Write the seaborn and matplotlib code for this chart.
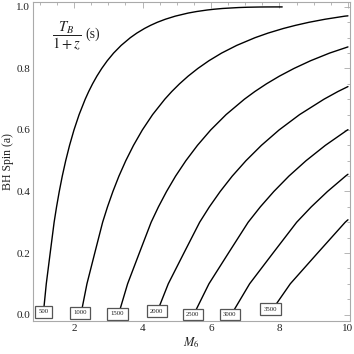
import matplotlib
matplotlib.use("Agg")
import matplotlib.pyplot as plt
import numpy as np
import pandas as pd
import seaborn as sns
from matplotlib.ticker import MultipleLocator, FormatStrFormatter

# Contour levels of T_B/(1+z) in seconds
levels = [500, 1000, 1500, 2000, 2500, 3000, 3500]

# Points (M6, spin)
spin_500 = [0, 0.1, 0.2, 0.3, 0.35, 0.4, 0.45, 0.5, 0.55, 0.6, 0.65, 0.7, 0.725, 0.75, 0.775,
            0.8, 0.825, 0.85, 0.875, 0.9, 0.915, 0.93, 0.94, 0.95, 0.96, 0.97, 0.98, 0.985,
            0.99, 0.9925, 0.995, 0.998, 0.999, 0.9997, 0.9999, 0.99999, 1.0]
mass_500 = [1.099, 1.188, 1.302, 1.417, 1.488, 1.567, 1.655, 1.755, 1.868, 1.997, 2.147, 2.325,
            2.427, 2.540, 2.666, 2.808, 2.969, 3.155, 3.376, 3.643, 3.834, 4.058, 4.232, 4.43,
            4.667, 4.955, 5.33, 5.577, 5.89, 6.089, 6.343, 6.81, 7.076, 7.415, 7.623, 7.876, 8.08]

spin_1000 = [0, 0.1, 0.2, 0.3, 0.35, 0.4, 0.45, 0.5, 0.55, 0.6, 0.65, 0.7, 0.725, 0.75, 0.775,
             0.8, 0.825, 0.85, 0.875, 0.9, 0.915, 0.93, 0.94, 0.95, 0.96, 0.97, 0.971]
mass_1000 = [2.198, 2.376, 2.604, 2.834, 2.976, 3.134, 3.31, 3.51, 3.736, 3.994, 4.294, 4.65,
             4.854, 5.08, 5.332, 5.616, 5.938, 6.31, 6.752, 7.286, 7.668, 8.116, 8.464, 8.86,
             9.334, 9.91, 10.0]

spin_1500 = [0, 0.1, 0.2, 0.3, 0.35, 0.4, 0.45, 0.5, 0.55, 0.6, 0.65, 0.7, 0.725, 0.75, 0.775,
             0.8, 0.825, 0.85, 0.870]
mass_1500 = [3.297, 3.564, 3.906, 4.251, 4.464, 4.701, 4.965, 5.265, 5.604, 5.991, 6.441, 6.975,
             7.281, 7.62, 7.998, 8.424, 8.907, 9.465, 10.0]

spin_2000 = [0, 0.1, 0.2, 0.3, 0.35, 0.4, 0.45, 0.5, 0.55, 0.6, 0.65, 0.7, 0.725, 0.741]
mass_2000 = [4.396, 4.752, 5.208, 5.668, 5.952, 6.268, 6.62, 7.02, 7.472, 7.988, 8.588, 9.30,
             9.708, 10.0]

spin_2500 = [0, 0.1, 0.2, 0.3, 0.35, 0.4, 0.45, 0.5, 0.55, 0.6, 0.601]
mass_2500 = [5.495, 5.94, 6.51, 7.085, 7.44, 7.835, 8.275, 8.775, 9.34, 9.985, 10.0]

spin_3000 = [0, 0.1, 0.2, 0.3, 0.35, 0.4, 0.45, 0.456]
mass_3000 = [6.594, 7.128, 7.812, 8.502, 8.928, 9.402, 9.93, 10.0]

spin_3500 = [0, 0.1, 0.2, 0.3, 0.308]
mass_3500 = [7.693, 8.316, 9.114, 9.919, 10.0]

# Contour label positions
label_text = ["500", "1000", "1500", "2000", "2500", "3000", "3500"]
label_mass = [1.12, 2.17, 3.27, 4.42, 5.47, 6.55, 7.74]
label_spin = [0.009, 0.006, 0.002, 0.011, 0.0, 0.0, 0.018]

curves = [(mass_500, spin_500), (mass_1000, spin_1000), (mass_1500, spin_1500),
          (mass_2000, spin_2000), (mass_2500, spin_2500), (mass_3000, spin_3000),
          (mass_3500, spin_3500)]
frames = []
for lev, (m, s) in zip(levels, curves):
    frames.append(pd.DataFrame({"M6": m, "spin": s, "level": lev}))
df = pd.concat(frames, ignore_index=True)

sns.set_theme(style="white")
plt.rcParams["font.family"] = ["Liberation Serif", "DejaVu Serif"]
plt.rcParams["mathtext.fontset"] = "stix"

fig = plt.figure(figsize=(3.54, 3.54), dpi=100)
ax = fig.add_axes([33 / 354, 33 / 354, 317 / 354, 319 / 354])

sns.lineplot(data=df, x="M6", y="spin", units="level", estimator=None, sort=False,
             color="black", linewidth=1.0, ax=ax, legend=False)

for t, m, s in zip(label_text, label_mass, label_spin):
    ax.text(m, s, t, fontsize=4.9, ha="center", va="center", color="#222222", zorder=5,
            bbox=dict(boxstyle="square,pad=0.5", facecolor="white", edgecolor="#555555",
                      linewidth=0.9))

ax.text(1.36, 0.908, r"$\dfrac{T_B}{1+z}$", fontsize=10.5, ha="left", va="center",
        color="#222222")
ax.text(2.33, 0.912, "(s)", fontsize=10, ha="left", va="center", color="#222222")

ax.set_xlim(0.80, 10.06)
ax.set_ylim(-0.021, 1.016)
ax.xaxis.set_major_locator(MultipleLocator(2))
ax.xaxis.set_minor_locator(MultipleLocator(0.5))
ax.yaxis.set_major_locator(MultipleLocator(0.2))
ax.yaxis.set_minor_locator(MultipleLocator(0.05))
ax.xaxis.set_major_formatter(FormatStrFormatter("%d"))
ax.yaxis.set_major_formatter(FormatStrFormatter("%.1f"))
ax.tick_params(which="both", direction="in", top=True, right=True, color="#aaaaaa",
               width=0.6, labelsize=8, labelcolor="#222222", pad=2)
ax.tick_params(which="major", length=4)
ax.tick_params(which="minor", length=2)
for sp in ax.spines.values():
    sp.set_color("#aaaaaa")
    sp.set_linewidth(0.8)

ax.set_xlabel(r"$M_6$", fontsize=9, labelpad=2, color="#222222")
ax.set_ylabel("BH Spin (a)", fontsize=8.5, labelpad=1.5, color="#222222")

fig.savefig("out.png", dpi=100)
